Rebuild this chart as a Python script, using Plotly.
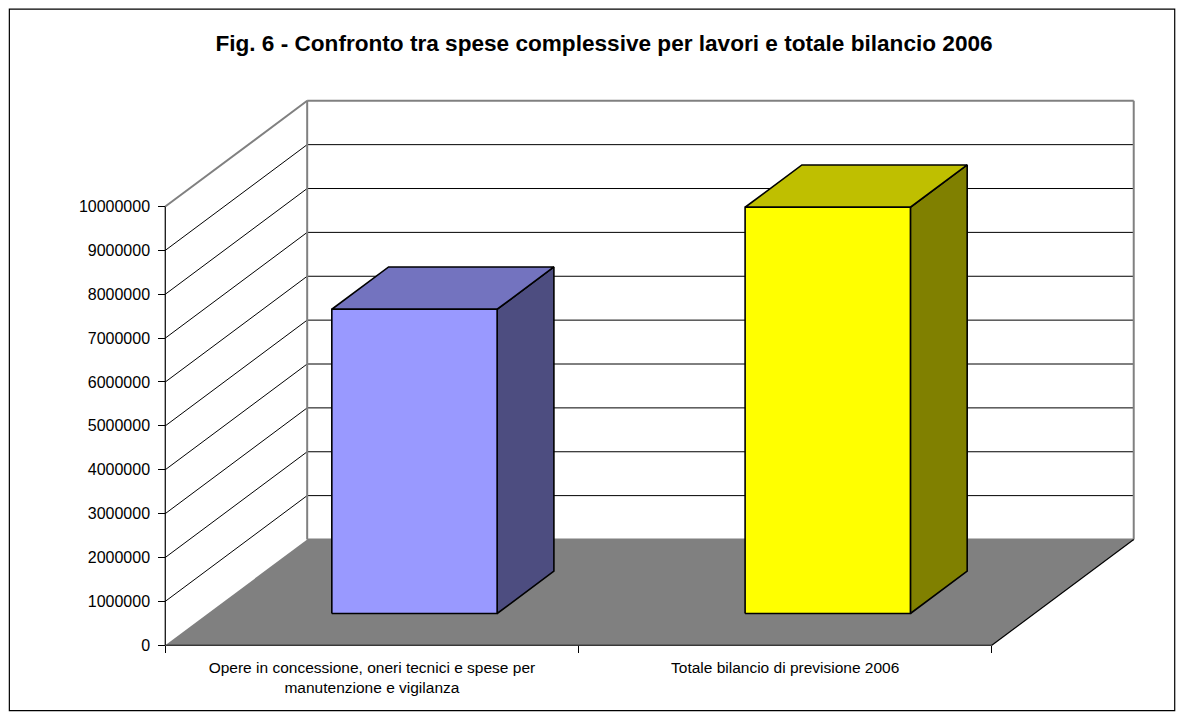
import plotly.graph_objects as go

# ---------------- data ----------------
categories = [
    "Opere in concessione, oneri tecnici e spese per<br>manutenzione e vigilanza",
    "Totale bilancio di previsione 2006",
]
values = [6935000, 9260000]
y_tickvals = [0, 1000000, 2000000, 3000000, 4000000, 5000000,
              6000000, 7000000, 8000000, 9000000, 10000000]
y_ticktext = [str(v) for v in y_tickvals]
title_text = "Fig. 6 - Confronto tra spese complessive per lavori e totale bilancio 2006"

front_colors = ["#9999FF", "#FFFF00"]
top_colors = ["#7373BF", "#BFBF00"]
side_colors = ["#4D4D80", "#808000"]

# ---------------- 3D projection (oblique) ----------------
N = len(categories)
Y_MAX = y_tickvals[-1]
DX = 0.3434      # full depth shift, category units
DY = 2410000     # full depth shift, value units
D0, D1 = 0.30, 0.70   # bar depth extent
BAR_W = 0.40          # bar width (category units)


def P(x, y, d):
    return x + d * DX, y + d * DY


def poly(points):
    xs = [p[0] for p in points] + [points[0][0]]
    ys = [p[1] for p in points] + [points[0][1]]
    return xs, ys


# ---------------- layout geometry ----------------
W, H = 1184, 720
PX_LEFT = 165.0
PX_PER_CAT = 413.5
PX_ZERO = 645.5
PX_PER_VAL = 43.9 / 1e6
PAD_X = 0.02
PAD_Y = 200000

xr = [-PAD_X, N + DX + PAD_X]
yr = [-PAD_Y, Y_MAX + DY + PAD_Y]
ml = PX_LEFT - PAD_X * PX_PER_CAT
pw = (xr[1] - xr[0]) * PX_PER_CAT
mr = W - ml - pw
mb = H - (PX_ZERO + PAD_Y * PX_PER_VAL)
ph = (yr[1] - yr[0]) * PX_PER_VAL
mt = H - mb - ph


def paper_x(px):
    return (px - ml) / pw


def paper_y(py):
    return ((H - mb) - py) / ph


fig = go.Figure()


def add_poly(points, fill, line_color=None, line_width=0):
    xs, ys = poly(points)
    fig.add_trace(go.Scatter(
        x=xs, y=ys, mode="lines", fill="toself", fillcolor=fill,
        line=dict(color=line_color or fill, width=line_width),
        hoverinfo="skip", showlegend=False))


def add_lines(segments, color, width):
    xs, ys = [], []
    for a, b in segments:
        xs += [a[0], b[0], None]
        ys += [a[1], b[1], None]
    fig.add_trace(go.Scatter(
        x=xs, y=ys, mode="lines", line=dict(color=color, width=width),
        hoverinfo="skip", showlegend=False))


# walls
add_poly([P(0, 0, 0), P(0, 0, 1), P(0, Y_MAX, 1), P(0, Y_MAX, 0)], "#FFFFFF")
add_poly([P(0, 0, 1), P(N, 0, 1), P(N, Y_MAX, 1), P(0, Y_MAX, 1)], "#FFFFFF")

# gridlines on walls
grid = []
for v in y_tickvals[1:-1]:
    grid.append((P(0, v, 0), P(0, v, 1)))
    grid.append((P(0, v, 1), P(N, v, 1)))
add_lines(grid, "#000000", 1)

# wall borders (gray)
add_lines([
    (P(0, Y_MAX, 0), P(0, Y_MAX, 1)),
    (P(0, 0, 1), P(0, Y_MAX, 1)),
    (P(0, Y_MAX, 1), P(N, Y_MAX, 1)),
    (P(N, Y_MAX, 1), P(N, 0, 1)),
    (P(0, 0, 1), P(N, 0, 1)),
], "#808080", 2)

# floor
add_poly([P(0, 0, 0), P(N, 0, 0), P(N, 0, 1), P(0, 0, 1)], "#808080")
add_lines([
    (P(0, 0, 0), P(N, 0, 0)),
    (P(N, 0, 0), P(N, 0, 1)),
    (P(0, 0, 0), P(0, Y_MAX, 0)),
], "#000000", 1.2)

# bars
for i, v in enumerate(values):
    x0 = i + 0.5 - BAR_W / 2
    x1 = i + 0.5 + BAR_W / 2
    add_poly([P(x1, 0, D0), P(x1, 0, D1), P(x1, v, D1), P(x1, v, D0)],
             side_colors[i], "#000000", 1.6)
    add_poly([P(x0, v, D0), P(x1, v, D0), P(x1, v, D1), P(x0, v, D1)],
             top_colors[i], "#000000", 1.6)
    add_poly([P(x0, 0, D0), P(x1, 0, D0), P(x1, v, D0), P(x0, v, D0)],
             front_colors[i], "#000000", 1.6)

FONT = "Liberation Sans, Arial, sans-serif"

fig.update_layout(
    width=W, height=H,
    margin=dict(l=ml, r=mr, t=mt, b=mb, pad=0, autoexpand=False),
    paper_bgcolor="#FFFFFF", plot_bgcolor="rgba(0,0,0,0)",
    showlegend=False,
    font=dict(family=FONT, size=15.5, color="#000000"),
    title=dict(text="<b>" + title_text + "</b>",
               x=604 / W, xanchor="center", xref="container",
               y=1 - 43 / H, yanchor="middle", yref="container",
               font=dict(family=FONT, size=22.6, color="#000000")),
    xaxis=dict(range=xr, showgrid=False, zeroline=False, showline=False,
               anchor="free", position=(PAD_Y * PX_PER_VAL) / ph,
               tickmode="array",
               tickvals=[i + 0.5 for i in range(N)], ticktext=categories,
               ticks="", ticklabelstandoff=11,
               tickfont=dict(family=FONT, size=15.5, color="#000000"),
               minor=dict(tickmode="array", tickvals=list(range(N + 1)),
                          ticks="outside", ticklen=7, tickcolor="#000000",
                          tickwidth=1, showgrid=False),
               fixedrange=True),
    yaxis=dict(range=yr, showgrid=False, zeroline=False, showline=False,
               anchor="free", position=(PAD_X * PX_PER_CAT) / pw,
               tickmode="array", tickvals=y_tickvals, ticktext=y_ticktext,
               ticks="outside", ticklen=7, tickcolor="#000000", tickwidth=1,
               ticklabelstandoff=5,
               tickfont=dict(family=FONT, size=16, color="#000000"),
               fixedrange=True),
    shapes=[dict(type="rect", xref="paper", yref="paper",
                 x0=paper_x(9), x1=paper_x(1175),
                 y0=paper_y(711), y1=paper_y(9),
                 line=dict(color="#000000", width=1.2),
                 fillcolor="rgba(0,0,0,0)", layer="below")],
)

fig.write_html("out.html")
